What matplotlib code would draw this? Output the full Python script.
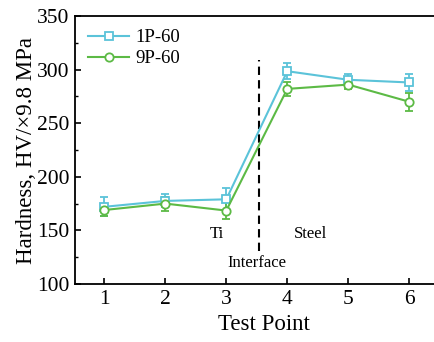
import matplotlib
matplotlib.use('Agg')
import matplotlib.pyplot as plt
from matplotlib.lines import Line2D

plt.rcParams['font.family'] = ['Liberation Serif', 'DejaVu Serif']

points = [1, 2, 3, 4, 5, 6]
hv_1p = [172, 177.5, 179, 298.5, 290.5, 288]
err_1p = [9, 6, 11, 7.5, 5, 7.5]
hv_9p = [169, 175, 168.5, 282, 286, 270]
err_9p = [6, 6.5, 8, 6.5, 4, 8.5]

c1 = '#5bc3d9'
c9 = '#5cba45'

fig = plt.figure(figsize=(4.34, 3.42), dpi=100)
ax = fig.add_axes([75/434, 1-284/342, 377/434, 268/342])

ax.errorbar(points, hv_1p, yerr=err_1p, color=c1, marker='s', mfc='white', mec=c1,
            ms=5.5, mew=1.3, lw=1.5, capsize=3, elinewidth=1.3, capthick=1.3)
ax.errorbar(points, hv_9p, yerr=err_9p, color=c9, marker='o', mfc='white', mec=c9,
            ms=6, mew=1.3, lw=1.5, capsize=3, elinewidth=1.3, capthick=1.3)

# interface line
ax.plot([3.53, 3.53], [131, 309], color='black', ls=(0, (4, 2.5)), lw=1.5)
ax.text(2.85, 147, 'Ti', fontsize=12, ha='center', va='center')
ax.text(4.38, 147, 'Steel', fontsize=12, ha='center', va='center')
ax.text(3.5, 120, 'Interface', fontsize=12, ha='center', va='center')

ax.set_xlim(0.52, 6.7)
ax.set_ylim(100, 350)
ax.set_xticks(points)
ax.set_yticks([100, 150, 200, 250, 300, 350])
ax.set_yticks([125, 175, 225, 275, 325], minor=True)
ax.tick_params(direction='in', labelsize=15.5, width=1.2, length=4, pad=4)
ax.tick_params(which='minor', direction='in', length=2.5, width=1)
for s in ax.spines.values():
    s.set_linewidth(1.3)

ax.set_xlabel('Test Point', fontsize=16.5, labelpad=4)
ax.set_ylabel('Hardness, HV/×9.8 MPa', fontsize=16.5, labelpad=0)

handles = [
    Line2D([], [], color=c1, marker='s', mfc='white', mec=c1, ms=5.5, mew=1.3, lw=1.5),
    Line2D([], [], color=c9, marker='o', mfc='white', mec=c9, ms=6, mew=1.3, lw=1.5),
]
ax.legend(handles, ['1P-60', '9P-60'], loc='upper left', frameon=False, fontsize=13.5,
          handlelength=2.2, borderaxespad=0.3, labelspacing=0.2, handletextpad=0.3)

fig.savefig('out.png', dpi=100)
